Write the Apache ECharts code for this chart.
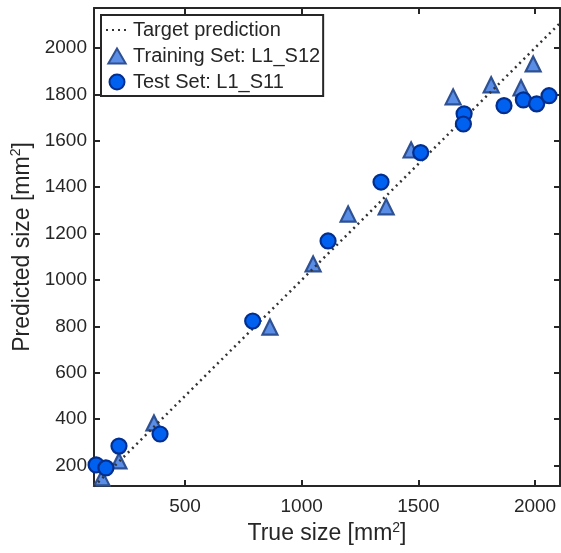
<!DOCTYPE html>
<html>
<head>
<meta charset="utf-8">
<script src="https://cdn.jsdelivr.net/npm/echarts@6/dist/echarts.min.js"></script>
<style>html,body{margin:0;padding:0;background:#fff}#c{width:561px;height:553px}</style>
</head>
<body>
<div id="c"></div>
<script>
// Data
const trainingSet = [
  [144,147],[217,220],[367,384],[864,797],[1049,1069],[1199,1284],
  [1362,1315],[1469,1560],[1649,1789],[1812,1841],[1940,1828],[1992,1931]
];
const testSet = [
  [119,203],[161,190],[217,284],[393,336],[790,823],[1113,1168],
  [1340,1422],[1510,1549],[1696,1716],[1693,1672],[1867,1751],[1950,1776],
  [2007,1759],[2060,1794]
];
const targetLine = [[0,0],[2500,2500]];
const xTicks = [500,1000,1500,2000];
const yTicks = [200,400,600,800,1000,1200,1400,1600,1800,2000];
const xRange = [110, 2107];
const yRange = [112, 2172];

const axisColor = '#262626';
const font = 'Liberation Sans, Arial, Helvetica, sans-serif';
const fmt = v => String(v);

function mkX(pos, show) {
  return {
    type: 'value', position: pos, min: xRange[0], max: xRange[1],
    axisLine: {show: true, onZero: false, lineStyle: {color: axisColor, width: 2}},
    axisTick: {show: true, inside: true, length: 6, customValues: xTicks, lineStyle: {color: axisColor, width: 2}},
    axisLabel: {show: show, customValues: xTicks, formatter: fmt, margin: 11, color: axisColor, fontSize: 19, fontFamily: font},
    splitLine: {show: false},
    name: show ? '{a|True size [mm}{s|2}{a|]}' : '',
    nameLocation: 'middle', nameGap: 35,
    nameTextStyle: {rich: {
      a: {fontSize: 23, color: axisColor, fontFamily: font},
      s: {fontSize: 14, color: axisColor, fontFamily: font, verticalAlign: 'top', padding: [0,0,12,0]}
    }}
  };
}
function mkY(pos, show) {
  return {
    type: 'value', position: pos, min: yRange[0], max: yRange[1],
    axisLine: {show: true, onZero: false, lineStyle: {color: axisColor, width: 2}},
    axisTick: {show: true, inside: true, length: 6, customValues: yTicks, lineStyle: {color: axisColor, width: 2}},
    axisLabel: {show: show, customValues: yTicks, formatter: fmt, margin: 7, color: axisColor, fontSize: 19, fontFamily: font},
    splitLine: {show: false},
    name: show ? '{a|Predicted size [mm}{s|2}{a|]}' : '',
    nameLocation: 'middle', nameGap: 55, nameRotate: 90,
    nameTextStyle: {rich: {
      a: {fontSize: 23, color: axisColor, fontFamily: font},
      s: {fontSize: 14, color: axisColor, fontFamily: font, verticalAlign: 'top', padding: [0,0,12,0]}
    }}
  };
}

const chart = echarts.init(document.getElementById('c'), null, {renderer: 'canvas'});
chart.setOption({
  animation: false,
  backgroundColor: '#fff',
  grid: {left: 94, top: 8, right: 1, bottom: 67, containLabel: false},
  xAxis: [mkX('bottom', true), mkX('top', false)],
  yAxis: [mkY('left', true), mkY('right', false)],
  legend: {
    left: 101, top: 15,
    orient: 'vertical',
    data: [
      {name: 'Target prediction', itemStyle: {opacity: 0}},
      {name: 'Training Set: L1_S12', icon: 'path://M0,10L5.77,0L11.55,10Z'},
      'Test Set: L1_S11'
    ],
    backgroundColor: '#fff',
    borderColor: axisColor, borderWidth: 2, borderRadius: 0,
    padding: [5, 3, 4, 4],
    itemWidth: 22, itemHeight: 15, itemGap: 6,
    symbolKeepAspect: true,
    textStyle: {fontSize: 20, color: axisColor, fontFamily: font}
  },
  series: [
    {
      name: 'Training Set: L1_S12', type: 'scatter', data: trainingSet,
      symbol: 'triangle', symbolSize: 15,
      itemStyle: {color: '#5a8de6', borderColor: '#2e5193', borderWidth: 2.2, opacity: 1},
      z: 2
    },
    {
      name: 'Target prediction', type: 'line', data: targetLine,
      showSymbol: false, symbol: 'none', clip: true,
      lineStyle: {color: '#333333', width: 2.5, type: [2, 4]},
      itemStyle: {color: '#333333'},
      z: 3
    },
    {
      name: 'Test Set: L1_S11', type: 'scatter', data: testSet,
      symbol: 'circle', symbolSize: 15,
      itemStyle: {color: '#0060f0', borderColor: '#002f8f', borderWidth: 2.2, opacity: 1},
      z: 4
    }
  ]
});
</script>
</body>
</html>
